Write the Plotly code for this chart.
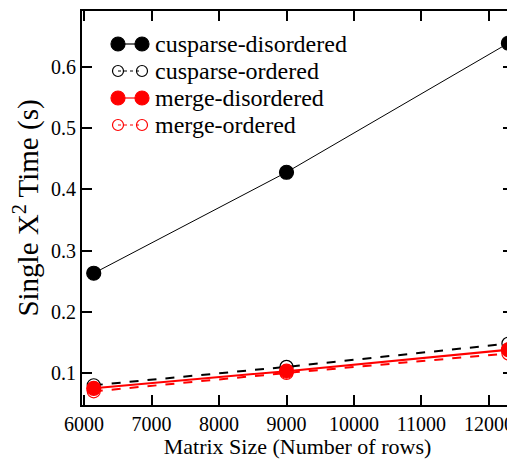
import plotly.graph_objects as go

matrix_rows = [6144, 9000, 12288]
cusparse_disordered = [0.263, 0.428, 0.639]
cusparse_ordered = [0.080, 0.110, 0.148]
merge_disordered = [0.075, 0.103, 0.138]
merge_ordered = [0.070, 0.100, 0.132]

series_names = ["cusparse-disordered", "cusparse-ordered", "merge-disordered", "merge-ordered"]
series_values = [cusparse_disordered, cusparse_ordered, merge_disordered, merge_ordered]
series_colors = ["black", "black", "red", "red"]
series_filled = [True, False, True, False]
series_dash = ["solid", "dash", "solid", "dash"]
series_width = [1, 2, 2, 2]

FONT = "Liberation Serif, Times New Roman, serif"

fig = go.Figure()
for name, vals, col, filled, dash, w in zip(series_names, series_values, series_colors,
                                              series_filled, series_dash, series_width):
    fig.add_trace(go.Scatter(
        x=matrix_rows, y=vals, mode="lines+markers", name=name,
        line=dict(color=col, width=w, dash=dash),
        marker=dict(symbol="circle" if filled else "circle-open", size=14 if filled else 13,
                    color=col, line=dict(color=col, width=1.2)),
        showlegend=False, cliponaxis=False,
    ))

# custom legend (two markers joined by a short line), drawn on a pixel-like overlay axis
leg_y = [44, 71, 98, 125]
for name, col, filled, dash, yy in zip(series_names, series_colors, series_filled, series_dash, leg_y):
    fig.add_trace(go.Scatter(
        x=[118, 142], y=[yy, yy], xaxis="x2", yaxis="y2", mode="lines+markers",
        line=dict(color=col, width=1.2, dash="dot" if not filled else "solid"),
        marker=dict(symbol="circle" if filled else "circle-open", size=14 if filled else 11,
                    color=col, line=dict(color=col, width=1.2)),
        showlegend=False, hoverinfo="skip",
    ))
    fig.add_annotation(x=153, y=yy, xref="x2", yref="y2", text=name, showarrow=False,
                       xanchor="left", yanchor="middle",
                       font=dict(family=FONT, size=24, color="black"))

axis_common = dict(
    showgrid=False, zeroline=False, showline=True, linecolor="black", linewidth=2,
    mirror="ticks", ticks="inside", ticklen=10, tickwidth=2, tickcolor="black",
    tickfont=dict(family=FONT, size=20, color="black"), automargin=False,
)

# page has an 8px body margin, so the figure is shrunk and shifted accordingly
fig.update_layout(
    width=507, height=451,
    margin=dict(l=74, r=2, t=3, b=54, autoexpand=False),
    paper_bgcolor="white", plot_bgcolor="white",
    xaxis=dict(range=[5970, 12356], dtick=1000, tick0=0, tickformat="d",
               title=dict(text="Matrix Size (Number of rows)", standoff=4,
                          font=dict(family=FONT, size=22, color="black")),
               **axis_common),
    yaxis=dict(range=[0.0477, 0.6915], dtick=0.1, tick0=0, tickformat=".1f",
               title=dict(text="Single X<sup>2</sup> Time (s)", standoff=8,
                          font=dict(family=FONT, size=29, color="black")),
               **axis_common),
    xaxis2=dict(range=[82, 513], overlaying="x", visible=False, fixedrange=True),
    yaxis2=dict(range=[405, 11], overlaying="y", visible=False, fixedrange=True),
    showlegend=False,
)

fig.write_html("out.html")
